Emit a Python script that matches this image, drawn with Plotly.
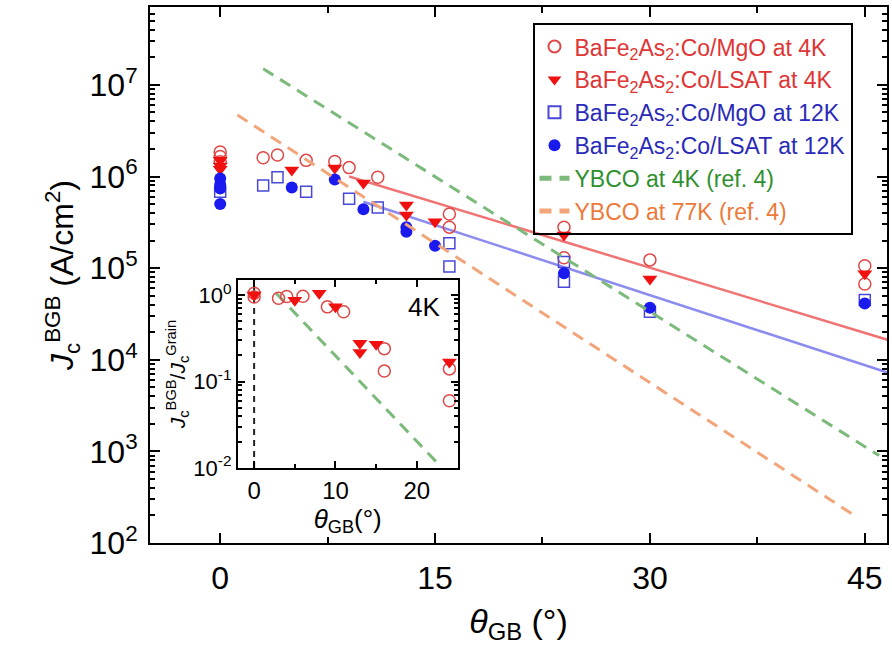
import plotly.graph_objects as go

# ---------------- data ----------------
mgo4_x = [0, 0, 0, 3, 4, 6, 8, 9, 11, 16, 16, 24, 24, 30, 45, 45]
mgo4_y = [1.85e6, 1.65e6, 1.45e6, 1.6e6, 1.72e6, 1.5e6, 1.46e6, 1.25e6, 9.8e5,
          3.9e5, 2.8e5, 2.8e5, 1.3e5, 1.23e5, 1.06e5, 6.7e4]

lsat4_x = [0, 0, 0, 5, 8, 10, 13, 13, 15, 24, 30, 45]
lsat4_y = [1.5e6, 1.3e6, 1.2e6, 1.18e6, 1.24e6, 8.5e5, 4.9e5, 3.8e5, 3.2e5,
           2.3e5, 7.6e4, 8.7e4]

mgo12_x = [0, 3, 4, 6, 9, 11, 16, 16, 24, 24, 30, 45]
mgo12_y = [6.8e5, 8.0e5, 9.8e5, 6.8e5, 5.7e5, 4.6e5, 1.87e5, 1.04e5, 1.17e5,
           7.1e4, 3.35e4, 4.5e4]

lsat12_x = [0, 0, 0, 0, 5, 8, 10, 13, 13, 15, 24, 30, 45]
lsat12_y = [9.5e5, 8.2e5, 7.4e5, 5.0e5, 7.6e5, 9.3e5, 4.4e5, 2.8e5, 2.5e5,
            1.75e5, 8.8e4, 3.7e4, 4.1e4]

fit4_x = [9, 47]
fit4_y = [1.0e6, 1.58e4]
fit12_x = [10, 47]
fit12_y = [5.3e5, 6.9e3]

ybco4_x = [3, 46]
ybco4_y = [1.5e7, 9.0e2]
ybco77_x = [1.2, 44.5]
ybco77_y = [4.7e6, 1.9e2]

# inset (normalized Jc at 4K)
ins_mgo_x = [0, 0, 3, 4, 6, 9, 11, 16, 16, 24, 24]
ins_mgo_y = [1.05, 0.95, 0.92, 0.96, 0.97, 0.73, 0.64, 0.24, 0.132, 0.14, 0.06]
ins_lsat_x = [0, 5, 8, 10, 13, 13, 15, 24]
ins_lsat_y = [1.0, 0.87, 1.05, 0.73, 0.277, 0.217, 0.27, 0.168]
ins_ybco_x = [2.7, 22.9]
ins_ybco_y = [1.05, 0.0105]
ins_zero_x = [0, 0]
ins_zero_y = [0.01, 1.5]

main_ticks = [1e2, 1e3, 1e4, 1e5, 1e6, 1e7]
main_ticktext = ["10<sup>%d</sup>" % e for e in range(2, 8)]
ins_ticks = [0.01, 0.1, 1]
ins_ticktext = ["10<sup>-2</sup>", "10<sup>-1</sup>", "10<sup>0</sup>"]

main_minor = [m * 10 ** e for e in range(2, 8) for m in range(2, 10)]
ins_minor = [m * 10 ** e for e in range(-2, 1) for m in range(2, 10)]

# ---------------- styles ----------------
RED_OPEN = "#e04848"
BLUE = "#1a1aee"
BLUE_OPEN = "#4848d8"
GREEN = "#7cba7c"
ORANGE = "#f2a57a"
FONT = "Liberation Sans, Arial, sans-serif"


def lbl(txt, col):
    return "<span style='color:%s'>%s</span>" % (col, txt)


bafe = "BaFe<sub>2</sub>As<sub>2</sub>:Co/"

fig = go.Figure()

fig.add_trace(go.Scatter(x=fit4_x, y=fit4_y, mode="lines", showlegend=False,
                         line=dict(color="#f07474", width=2.5)))
fig.add_trace(go.Scatter(x=fit12_x, y=fit12_y, mode="lines", showlegend=False,
                         line=dict(color="#8c8cf0", width=2.5)))

fig.add_trace(go.Scatter(x=mgo4_x, y=mgo4_y, mode="markers",
                         name=lbl(bafe + "MgO at 4K", "#e03535"),
                         marker=dict(symbol="circle-open", size=12,
                                     color=RED_OPEN, line=dict(width=1.5))))
fig.add_trace(go.Scatter(x=lsat4_x, y=lsat4_y, mode="markers",
                         name=lbl(bafe + "LSAT at 4K", "#e03535"),
                         marker=dict(symbol="triangle-down", size=13, color="#f01010")))
fig.add_trace(go.Scatter(x=mgo12_x, y=mgo12_y, mode="markers",
                         name=lbl(bafe + "MgO at 12K", "#2a2ab8"),
                         marker=dict(symbol="square-open", size=11,
                                     color=BLUE_OPEN, line=dict(width=1.5))))
fig.add_trace(go.Scatter(x=lsat12_x, y=lsat12_y, mode="markers",
                         name=lbl(bafe + "LSAT at 12K", "#2a2ab8"),
                         marker=dict(symbol="circle", size=12, color=BLUE)))
fig.add_trace(go.Scatter(x=ybco4_x, y=ybco4_y, mode="lines",
                         name=lbl("YBCO at 4K (ref. 4)", "#2f8f2f"),
                         line=dict(color=GREEN, width=3, dash="12px,8px")))
fig.add_trace(go.Scatter(x=ybco77_x, y=ybco77_y, mode="lines",
                         name=lbl("YBCO at 77K (ref. 4)", "#ec7a3a"),
                         line=dict(color=ORANGE, width=3, dash="12px,8px")))

# inset traces
fig.add_trace(go.Scatter(x=ins_zero_x, y=ins_zero_y, mode="lines", showlegend=False,
                         xaxis="x2", yaxis="y2",
                         line=dict(color="#222222", width=2, dash="6px,5px")))
fig.add_trace(go.Scatter(x=ins_ybco_x, y=ins_ybco_y, mode="lines", showlegend=False,
                         xaxis="x2", yaxis="y2",
                         line=dict(color=GREEN, width=3, dash="12px,8px")))
fig.add_trace(go.Scatter(x=ins_mgo_x, y=ins_mgo_y, mode="markers", showlegend=False,
                         xaxis="x2", yaxis="y2",
                         marker=dict(symbol="circle-open", size=12,
                                     color=RED_OPEN, line=dict(width=1.5))))
fig.add_trace(go.Scatter(x=ins_lsat_x, y=ins_lsat_y, mode="markers", showlegend=False,
                         xaxis="x2", yaxis="y2",
                         marker=dict(symbol="triangle-down", size=13, color="#f01010")))

axis_common = dict(showline=True, linecolor="black", linewidth=2, mirror="allticks",
                   ticks="inside", tickcolor="black", tickwidth=2, showgrid=False,
                   zeroline=False)

fig.update_layout(
    width=892, height=649,
    margin=dict(l=150, r=3, t=7, b=106),
    paper_bgcolor="white", plot_bgcolor="white",
    font=dict(family=FONT, color="black"),
    xaxis=dict(axis_common, range=[-4.9, 46.55], tickvals=[0, 15, 30, 45],
               ticklen=10, tickfont=dict(size=32), ticklabelstandoff=6,
               minor=dict(dtick=7.5, tick0=0, ticks="inside", ticklen=6,
                          tickwidth=2, tickcolor="black"),
               title=dict(text="<i>θ</i><sub>GB</sub> (°)", font=dict(size=34),
                          standoff=14)),
    yaxis=dict(axis_common, type="log", range=[2, 7.85], tickvals=main_ticks,
               ticktext=main_ticktext, ticklen=10, tickfont=dict(size=32),
               ticklabelstandoff=4,
               minor=dict(tickvals=main_minor, ticks="inside", ticklen=5,
                          tickwidth=1.5, tickcolor="black"),
               title=dict(text="<i>J</i><sub>c</sub><sup>BGB</sup> (A/cm<sup>2</sup>)",
                          font=dict(size=32), standoff=6)),
    xaxis2=dict(axis_common, domain=[0.1192, 0.4173], anchor="y2",
                range=[-2, 25], tickvals=[0, 10, 20], ticklen=7,
                tickfont=dict(size=24),
                minor=dict(dtick=5, tick0=0, ticks="inside", ticklen=4,
                           tickwidth=2, tickcolor="black"),
                title=dict(text="<i>θ</i><sub>GB</sub>(°)", font=dict(size=26),
                           standoff=2)),
    yaxis2=dict(axis_common, domain=[0.1399, 0.4907], anchor="x2", type="log",
                range=[-2, 0.174], tickvals=ins_ticks, ticktext=ins_ticktext,
                ticklen=7, tickfont=dict(size=22),
                minor=dict(tickvals=ins_minor, ticks="inside", ticklen=4,
                           tickwidth=1.5, tickcolor="black"),
                title=dict(text="<i>J</i><sub>c</sub><sup>BGB</sup>/<i>J</i><sub>c</sub><sup>Grain</sup>",
                           font=dict(size=21), standoff=2)),
    legend=dict(x=0.519, y=0.97, xanchor="left", yanchor="top",
                bgcolor="rgba(255,255,255,0)", bordercolor="black", borderwidth=2,
                font=dict(size=23, family=FONT), tracegroupgap=0,
                itemsizing="constant", itemwidth=30),
    annotations=[dict(text="4K", x=20.9, y=-0.14, xref="x2", yref="y2",
                      showarrow=False, font=dict(size=26, family=FONT))],
)

fig.write_html("out.html")
